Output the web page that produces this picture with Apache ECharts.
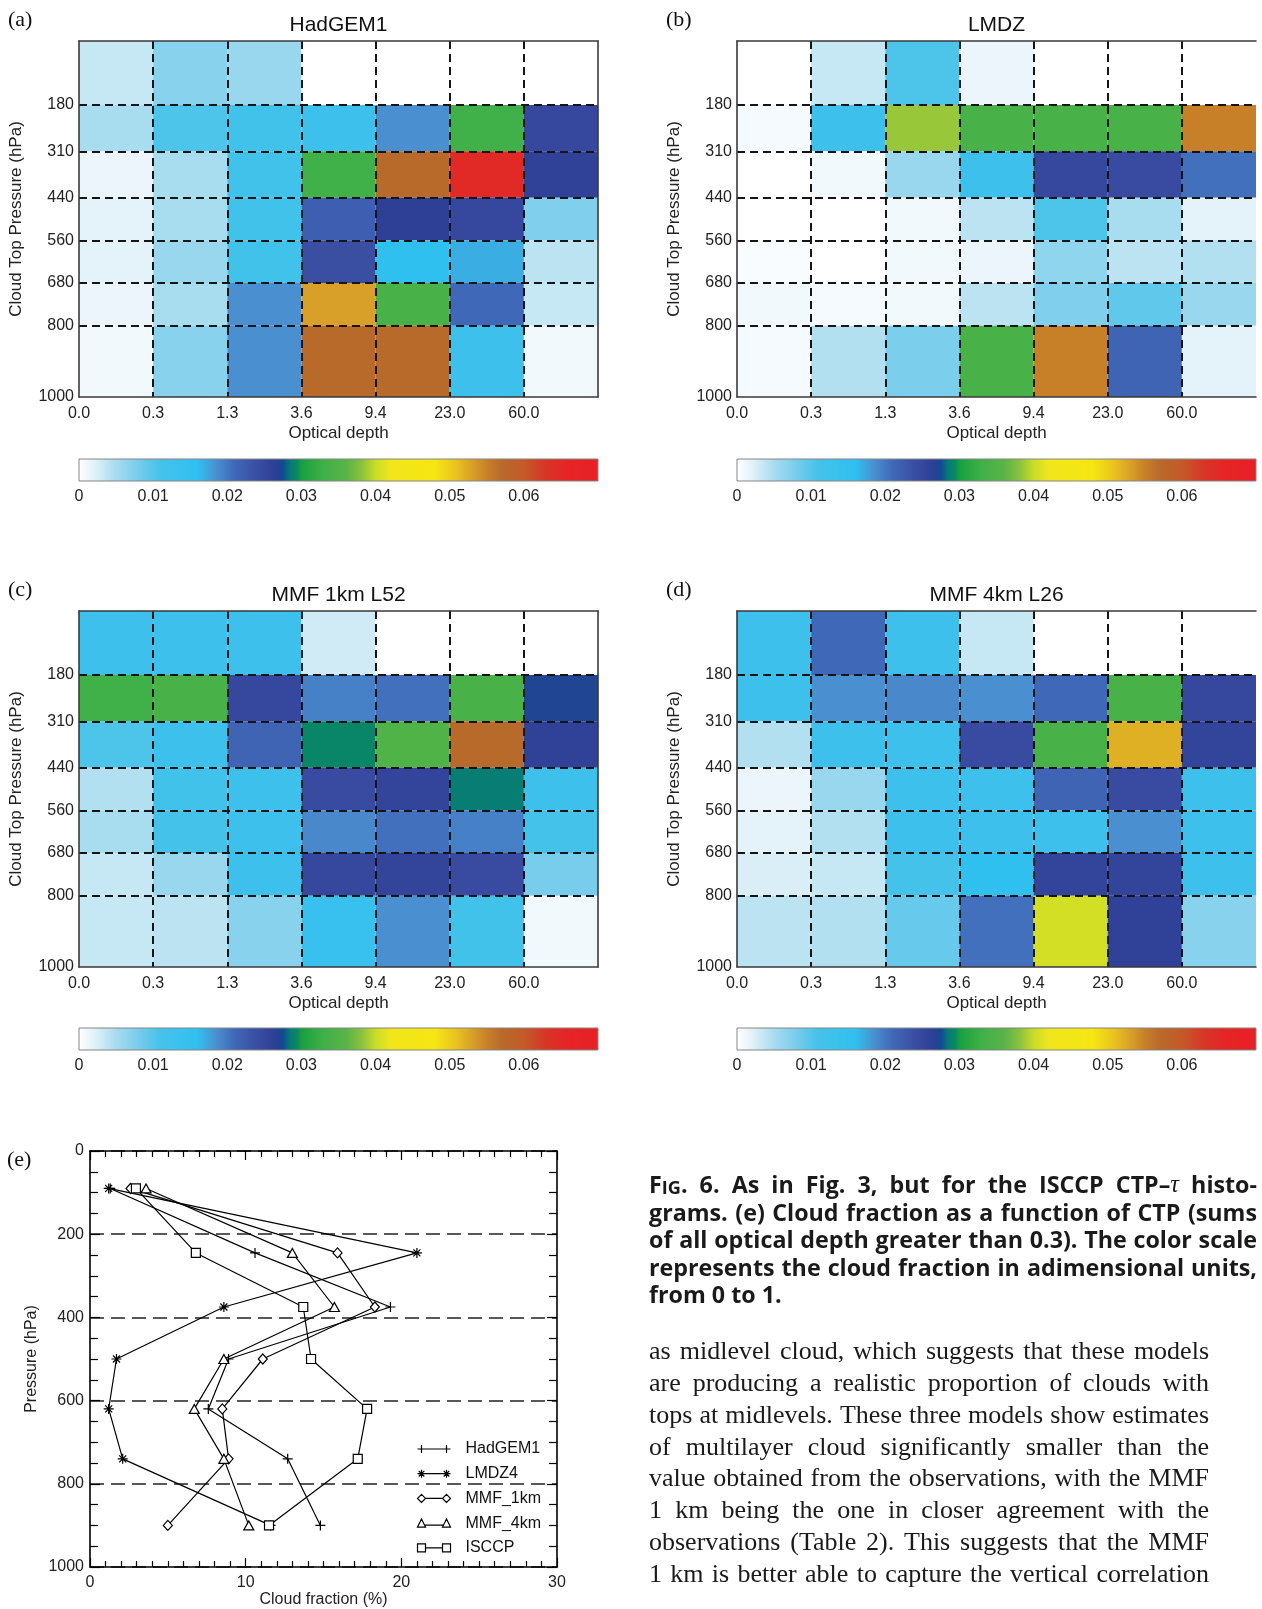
<!DOCTYPE html>
<html>
<head>
<meta charset="utf-8">
<title>Fig. 6 ISCCP CTP-tau histograms</title>
<script src="https://cdn.jsdelivr.net/npm/echarts@6.0.0/dist/echarts.min.js"></script>
<style>
html,body{margin:0;padding:0;background:#ffffff;}
#chart{width:1262px;height:1609px;}
</style>
</head>
<body>
<div id="chart"></div>
<script>
// ================= DATA =================
const tauLabels = ['0.0', '0.3', '1.3', '3.6', '9.4', '23.0', '60.0', ''];
const pressureEdges = [0, 180, 310, 440, 560, 680, 800, 1000];
const pressureTickLabels = [180, 310, 440, 560, 680, 800, 1000];
const colorbarMax = 0.07;
const colorbarTickLabels = ['0', '0.01', '0.02', '0.03', '0.04', '0.05', '0.06', ''];

// rows: top (0-180 hPa) -> bottom (800-1000 hPa); columns: tau bins 0.0-0.3 ... >60
const hadgem1 = [
  [0.0035, 0.007, 0.006, 0, 0, 0, 0],
  [0.005, 0.0105, 0.012, 0.013, 0.0185, 0.033, 0.025],
  [0.0015, 0.005, 0.012, 0.033, 0.057, 0.065, 0.026],
  [0.002, 0.005, 0.012, 0.022, 0.0265, 0.025, 0.0075],
  [0.002, 0.006, 0.012, 0.024, 0.016, 0.017, 0.004],
  [0.0015, 0.005, 0.0185, 0.053, 0.034, 0.021, 0.0035],
  [0.001, 0.007, 0.0185, 0.057, 0.057, 0.013, 0.001]
];
const lmdz = [
  [0, 0.0035, 0.0105, 0.0015, 0, 0, 0],
  [0.0008, 0.013, 0.0385, 0.034, 0.034, 0.034, 0.055],
  [0, 0.001, 0.006, 0.013, 0.025, 0.0245, 0.0205],
  [0, 0, 0.001, 0.004, 0.0105, 0.005, 0.002],
  [0.0005, 0, 0.001, 0.0015, 0.0065, 0.004, 0.0045],
  [0.001, 0.0008, 0.001, 0.004, 0.0075, 0.0095, 0.006],
  [0.0008, 0.0045, 0.0078, 0.034, 0.055, 0.0215, 0.002]
];
const mmf1km = [
  [0.013, 0.013, 0.013, 0.003, 0, 0, 0],
  [0.033, 0.034, 0.025, 0.0195, 0.0205, 0.034, 0.027],
  [0.0105, 0.013, 0.0215, 0.0292, 0.035, 0.057, 0.026],
  [0.0045, 0.012, 0.013, 0.0245, 0.0255, 0.0287, 0.013],
  [0.005, 0.011, 0.013, 0.019, 0.0205, 0.0195, 0.011],
  [0.0035, 0.006, 0.013, 0.025, 0.0255, 0.0245, 0.008],
  [0.0035, 0.004, 0.007, 0.014, 0.0185, 0.012, 0.001]
];
const mmf4km = [
  [0.013, 0.021, 0.013, 0.0035, 0, 0, 0],
  [0.013, 0.0185, 0.019, 0.0185, 0.021, 0.034, 0.025],
  [0.0045, 0.013, 0.013, 0.0245, 0.034, 0.052, 0.0255],
  [0.0015, 0.006, 0.013, 0.013, 0.0215, 0.0245, 0.013],
  [0.002, 0.0045, 0.013, 0.013, 0.013, 0.0185, 0.013],
  [0.0025, 0.0035, 0.011, 0.016, 0.0255, 0.0255, 0.013],
  [0.004, 0.0045, 0.009, 0.0205, 0.0405, 0.026, 0.007]
];
const panelTitles = ['HadGEM1', 'LMDZ', 'MMF 1km L52', 'MMF 4km L26'];
const panelLetters = ['(a)', '(b)', '(c)', '(d)', '(e)'];

// panel (e): cloud fraction (%) vs pressure (hPa)
const profileLevels = [90, 245, 375, 500, 620, 740, 900];
const hadgem1Profile = [1.3, 10.6, 19.3, 8.9, 7.6, 12.7, 14.8];
const lmdz4Profile = [1.2, 21.0, 8.6, 1.7, 1.2, 2.1, 11.6];
const mmf1kmProfile = [2.6, 15.9, 18.3, 11.1, 8.5, 8.9, 5.0];
const mmf4kmProfile = [3.6, 13.0, 15.7, 8.6, 6.7, 8.6, 10.2];
const isccpProfile = [2.95, 6.8, 13.7, 14.2, 17.8, 17.2, 11.5];
const profileNames = ['HadGEM1', 'LMDZ4', 'MMF_1km', 'MMF_4km', 'ISCCP'];

const captionLines = [
  'FIG. 6. As in Fig. 3, but for the ISCCP CTP\u2013\u03c4 histo-',
  'grams. (e) Cloud fraction as a function of CTP (sums',
  'of all optical depth greater than 0.3). The color scale',
  'represents the cloud fraction in adimensional units,',
  'from 0 to 1.'
];
const bodyLines = [
  'as midlevel cloud, which suggests that these models',
  'are producing a realistic proportion of clouds with',
  'tops at midlevels. These three models show estimates',
  'of multilayer cloud significantly smaller than the',
  'value obtained from the observations, with the MMF',
  '1 km being the one in closer agreement with the',
  'observations (Table 2). This suggests that the MMF',
  '1 km is better able to capture the vertical correlation'
];

// ================= STYLE =================
const FONT = '"Liberation Sans", Arial, sans-serif';
const colorStops = [
  [0.000, '#ffffff'], [0.002, '#e4f2f9'], [0.005, '#a8dcef'], [0.008, '#78cdec'],
  [0.011, '#45c2ea'], [0.016, '#30c0f0'], [0.0185, '#4a90d0'], [0.021, '#4068b8'],
  [0.024, '#3a4ea2'], [0.0265, '#2e3f96'], [0.0275, '#104a90'], [0.0285, '#087a78'],
  [0.0295, '#0a8a60'], [0.030, '#18a040'], [0.033, '#40b048'], [0.036, '#58b448'],
  [0.038, '#88c040'], [0.040, '#c8dc28'], [0.042, '#f0e61c'], [0.048, '#f6e612'],
  [0.051, '#e8c020'], [0.053, '#d8a028'], [0.055, '#c88028'], [0.057, '#b86a2a'],
  [0.060, '#c45a2a'], [0.063, '#d83428'], [0.066, '#e62424'], [0.070, '#e8202a']
];
function hexRgb(h) { return [parseInt(h.substr(1, 2), 16), parseInt(h.substr(3, 2), 16), parseInt(h.substr(5, 2), 16)]; }
function cmap(v) {
  if (v <= colorStops[0][0]) return colorStops[0][1];
  for (let i = 1; i < colorStops.length; i++) {
    if (v <= colorStops[i][0]) {
      const a = colorStops[i - 1], b = colorStops[i];
      const t = (v - a[0]) / (b[0] - a[0]);
      const ca = hexRgb(a[1]), cb = hexRgb(b[1]);
      const c = ca.map((x, k) => Math.round(x + (cb[k] - x) * t));
      return 'rgb(' + c.join(',') + ')';
    }
  }
  return colorStops[colorStops.length - 1][1];
}

// ================= LAYOUT =================
const PW = 519, PH = 356;
const panelPos = [[79, 41], [737, 41], [79, 611], [737, 611]];
const cbTops = [459, 459, 1028, 1028];
const matrices = [hadgem1, lmdz, mmf1km, mmf4km];
const rightBorderShown = [true, false, true, false]; // (b),(d) are cropped at the page edge

const grids = [], xAxes = [], yAxes = [], series = [], graphics = [];
const frameLine = { show: true, onZero: false, lineStyle: { color: '#3a3a3a', width: 1.6 } };
const dashStyle = { color: '#151515', width: 2, type: [8, 5] };

function heatRender(params, api) {
  const c = api.value(0), r = api.value(1), v = api.value(2);
  const p0 = api.coord([c, pressureEdges[r]]);
  const p1 = api.coord([c + 1, pressureEdges[r + 1]]);
  return {
    type: 'rect',
    shape: { x: Math.min(p0[0], p1[0]), y: Math.min(p0[1], p1[1]), width: Math.abs(p1[0] - p0[0]), height: Math.abs(p1[1] - p0[1]) },
    style: { fill: cmap(v) }
  };
}
const gradient = new echarts.graphic.LinearGradient(0, 0, 1, 0,
  colorStops.map(s => ({ offset: s[0] / colorbarMax, color: s[1] })));
function colorbarRender(params, api) {
  const p0 = api.coord([api.value(0), 1]);
  const p1 = api.coord([api.value(1), 0]);
  return { type: 'rect', shape: { x: p0[0], y: p0[1], width: p1[0] - p0[0], height: p1[1] - p0[1] },
    style: { fill: gradient, stroke: '#858585', lineWidth: 1 } };
}

panelPos.forEach((pos, k) => {
  const [left, top] = pos;
  const g = grids.length;
  grids.push({ left: left, top: top, width: PW, height: PH });
  const xi = xAxes.length;
  xAxes.push({
    gridIndex: g, type: 'value', min: 0, max: 7, interval: 1, position: 'bottom', z: 10,
    axisLine: frameLine, axisTick: { show: false }, splitLine: { show: false },
    axisLabel: { color: '#222', fontSize: 16, fontFamily: FONT, margin: 9, formatter: v => tauLabels[Math.round(v)] || '' },
    name: 'Optical depth', nameLocation: 'middle', nameGap: 28,
    nameTextStyle: { color: '#222', fontSize: 17, fontFamily: FONT }
  });
  xAxes.push({
    gridIndex: g, type: 'value', min: 0, max: 7, position: 'top', z: 10,
    axisLine: frameLine, axisTick: { show: false }, axisLabel: { show: false }, splitLine: { show: false }
  });
  const yi = yAxes.length;
  yAxes.push({
    gridIndex: g, type: 'value', min: 0, max: 1000, interval: 10, inverse: true, position: 'left', z: 10,
    axisLine: frameLine, axisTick: { show: false }, splitLine: { show: false },
    axisLabel: { color: '#222', fontSize: 16, fontFamily: FONT, margin: 5,
      formatter: v => (pressureTickLabels.indexOf(Math.round(v)) >= 0 ? String(Math.round(v)) : '') },
    name: 'Cloud Top Pressure (hPa)', nameLocation: 'middle', nameGap: 54,
    nameTextStyle: { color: '#222', fontSize: 17, fontFamily: FONT }
  });
  yAxes.push({
    gridIndex: g, type: 'value', min: 0, max: 1000, inverse: true, position: 'right', z: 10,
    axisLine: Object.assign({}, frameLine, { show: rightBorderShown[k] }),
    axisTick: { show: false }, axisLabel: { show: false }, splitLine: { show: false }
  });
  const cells = [];
  matrices[k].forEach((row, r) => row.forEach((v, c) => cells.push([c, r, v])));
  series.push({
    type: 'custom', xAxisIndex: xi, yAxisIndex: yi, data: cells, renderItem: heatRender,
    encode: { x: 0, y: 1 }, silent: true,
    markLine: {
      silent: true, symbol: ['none', 'none'], label: { show: false }, lineStyle: dashStyle, z: 6,
      emphasis: { disabled: true },
      data: pressureTickLabels.slice(0, 6).map(p => ({ yAxis: p }))
        .concat([1, 2, 3, 4, 5, 6].map(i => ({ xAxis: i })))
    }
  });

  // colorbar
  const gc = grids.length;
  grids.push({ left: left, top: cbTops[k], width: PW, height: 22 });
  const xci = xAxes.length;
  xAxes.push({
    gridIndex: gc, type: 'value', min: 0, max: colorbarMax, interval: 0.01,
    axisLine: { show: false }, axisTick: { show: false }, splitLine: { show: false },
    axisLabel: { color: '#222', fontSize: 16, fontFamily: FONT, margin: 8,
      formatter: v => colorbarTickLabels[Math.round(v / 0.01)] || '' }
  });
  const yci = yAxes.length;
  yAxes.push({ gridIndex: gc, type: 'value', min: 0, max: 1, show: false });
  series.push({ type: 'custom', xAxisIndex: xci, yAxisIndex: yci, data: [[0, colorbarMax]],
    renderItem: colorbarRender, encode: { x: [0, 1] }, silent: true });

  // titles and letters
  graphics.push({ type: 'text', x: left + PW / 2, y: top - 16,
    style: { text: panelTitles[k], font: '21px ' + FONT, fill: '#111', align: 'center', verticalAlign: 'middle', textAlign: 'center', textVerticalAlign: 'middle' } });
  graphics.push({ type: 'text', x: left - 71, y: top - 21,
    style: { text: panelLetters[k], font: '22px "Liberation Serif", serif', fill: '#111', align: 'left', verticalAlign: 'middle', textAlign: 'left', textVerticalAlign: 'middle' } });
});

// ---------- panel (e) ----------
const ge = grids.length;
grids.push({ left: 90, top: 1151, width: 467, height: 417 });
const eLine = { show: true, onZero: false, lineStyle: { color: '#000', width: 1.6 } };
const exi = xAxes.length;
xAxes.push({
  gridIndex: ge, type: 'value', min: 0, max: 30, interval: 10, position: 'bottom',
  axisLine: eLine, axisTick: { show: true, inside: true, length: 9, lineStyle: { color: '#000', width: 1.2 } },
  minorTick: { show: true, splitNumber: 10, length: 6, lineStyle: { color: '#000', width: 1.2 } },
  splitLine: { show: false },
  axisLabel: { color: '#222', fontSize: 16, fontFamily: FONT, margin: 8 },
  name: 'Cloud fraction (%)', nameLocation: 'middle', nameGap: 25,
  nameTextStyle: { color: '#222', fontSize: 16, fontFamily: FONT }
});
xAxes.push({
  gridIndex: ge, type: 'value', min: 0, max: 30, interval: 10, position: 'top',
  axisLine: eLine, axisTick: { show: true, inside: true, length: 9, lineStyle: { color: '#000', width: 1.2 } },
  minorTick: { show: true, splitNumber: 10, length: 6, lineStyle: { color: '#000', width: 1.2 } },
  splitLine: { show: false }, axisLabel: { show: false }
});
const eyi = yAxes.length;
yAxes.push({
  gridIndex: ge, type: 'value', min: 0, max: 1000, interval: 200, inverse: true, position: 'left',
  axisLine: eLine, axisTick: { show: true, inside: true, length: 10, lineStyle: { color: '#000', width: 1.2 } },
  minorTick: { show: true, splitNumber: 4, length: 8, lineStyle: { color: '#000', width: 1.2 } },
  splitLine: { show: true, lineStyle: { color: '#222', width: 1.6, type: [14, 7] } },
  axisLabel: { color: '#222', fontSize: 16, fontFamily: FONT, margin: 6, formatter: v => String(v) },
  name: 'Pressure (hPa)', nameLocation: 'middle', nameGap: 50,
  nameTextStyle: { color: '#222', fontSize: 16, fontFamily: FONT }
});
yAxes.push({
  gridIndex: ge, type: 'value', min: 0, max: 1000, interval: 200, inverse: true, position: 'right',
  axisLine: eLine, axisTick: { show: true, inside: true, length: 10, lineStyle: { color: '#000', width: 1.2 } },
  minorTick: { show: true, splitNumber: 4, length: 8, lineStyle: { color: '#000', width: 1.2 } },
  splitLine: { show: false }, axisLabel: { show: false }
});

const profiles = [hadgem1Profile, lmdz4Profile, mmf1kmProfile, mmf4kmProfile, isccpProfile];
const markerPaths = [
  'path://M0,5L10,5M5,0L5,10',
  'path://M0,5L10,5M5,0L5,10M1.5,1.5L8.5,8.5M1.5,8.5L8.5,1.5',
  'path://M5,0L10,5L5,10L0,5Z',
  'path://M5,0L10,9L0,9Z',
  'path://M0,0L10,0L10,10L0,10Z'
];
const markerSizes = [10, 10, [9, 10], [10, 9], 9];
const legendIcons = [
  'path://M0,4L33,4M4,0L4,8M29,0L29,8',
  'path://M0,4L33,4M4,0L4,8M1.2,1.2L6.8,6.8M1.2,6.8L6.8,1.2M29,0L29,8M26.2,1.2L31.8,6.8M26.2,6.8L31.8,1.2',
  'path://M4,0L8,4L4,8L0,4ZM29,0L33,4L29,8L25,4ZM8,4L25,4',
  'path://M4,0L8,8L0,8ZM29,0L33,8L25,8ZM6.5,6L26.5,6',
  'path://M0,0L8,0L8,8L0,8ZM25,0L33,0L33,8L25,8ZM8,4L25,4'
];
profiles.forEach((prof, i) => {
  series.push({
    type: 'line', name: profileNames[i], xAxisIndex: exi, yAxisIndex: eyi,
    data: prof.map((x, j) => [x, profileLevels[j]]),
    color: '#000', symbol: markerPaths[i], symbolSize: markerSizes[i],
    lineStyle: { color: '#000', width: 1.2 },
    itemStyle: { color: '#fff', borderColor: '#000', borderWidth: 1.2 },
    z: 3 + i, silent: true
  });
});

const legend = {
  data: profileNames.map((n, i) => ({ name: n, icon: legendIcons[i] })),
  orient: 'vertical', left: 415, top: 1440, padding: 0, itemWidth: 33, itemHeight: 8, itemGap: 6.7,
  selectedMode: false,
  itemStyle: { color: 'none', borderColor: '#000', borderWidth: 1.2 },
  textStyle: { color: '#111', fontSize: 16, fontFamily: FONT, lineHeight: 18, padding: [0, 0, 0, 10] }
};
graphics.push({ type: 'text', x: 7, y: 1160,
  style: { text: panelLetters[4], font: '22px "Liberation Serif", serif', fill: '#111', align: 'left', verticalAlign: 'middle', textAlign: 'left', textVerticalAlign: 'middle' } });

// ---------- caption and body text (justified) ----------
const mctx = document.createElement('canvas').getContext('2d');
function tw(t, f) { mctx.font = f; return mctx.measureText(t).width; }
function fitSize(lines, prefix, family, target, maxSize) {
  for (let s = maxSize; s > 10; s -= 0.25) {
    const f = prefix + s + 'px ' + family;
    if (lines.every(l => tw(l, f) <= target)) return s;
  }
  return 10;
}
const capFamily = '"Open Sans", sans-serif';
const capSize = fitSize(captionLines.slice(0, 4), 'bold ', capFamily, 606, 26);
const capFont = 'bold ' + capSize + 'px ' + capFamily;
const capSmall = 'bold ' + (capSize * 0.78).toFixed(2) + 'px ' + capFamily;
const tauFont = 'italic ' + (capSize + 1) + 'px "Liberation Serif", serif';
const bodyFamily = '"Liberation Serif", serif';
const bodySize = fitSize(bodyLines, '', bodyFamily, 556, 30);
const bodyFont = bodySize + 'px ' + bodyFamily;

function captionWord(w) {
  if (w === 'FIG.') return [{ t: 'F', f: capFont }, { t: 'IG', f: capSmall }, { t: '.', f: capFont }];
  const k = w.indexOf('\u03c4');
  if (k >= 0) return [{ t: w.slice(0, k), f: capFont }, { t: '\u03c4', f: tauFont }, { t: w.slice(k + 1), f: capFont }].filter(s => s.t);
  return [{ t: w, f: capFont }];
}
function layLine(words, x0, width, yBase, justify, spaceFont) {
  const widths = words.map(ws => ws.reduce((s, seg) => s + tw(seg.t, seg.f), 0));
  const total = widths.reduce((a, b) => a + b, 0);
  const gap = (justify && words.length > 1) ? (width - total) / (words.length - 1) : tw(' ', spaceFont);
  let x = x0;
  words.forEach((ws, i) => {
    let xs = x;
    ws.forEach(seg => {
      graphics.push({ type: 'text', x: xs, y: yBase,
        style: { text: seg.t, font: seg.f, fill: '#1a1a1a', align: 'left', verticalAlign: 'bottom', textAlign: 'left', textVerticalAlign: 'bottom' } });
      xs += tw(seg.t, seg.f);
    });
    x += widths[i] + gap;
  });
}
const capCenters = [1187, 1215, 1242, 1270, 1297];
captionLines.forEach((line, i) => {
  const words = line.split(' ').map(captionWord);
  layLine(words, 649, 608, capCenters[i] + 11, i < captionLines.length - 1, capFont);
});
const bodyCenters = [1352, 1384, 1416, 1448, 1479, 1511, 1543, 1575];
bodyLines.forEach((line, i) => {
  const words = line.split(' ').map(w => [{ t: w, f: bodyFont }]);
  layLine(words, 649, 560, bodyCenters[i] + 13, true, bodyFont);
});

// ================= CHART =================
const chart = echarts.init(document.getElementById('chart'), null, { renderer: 'canvas', width: 1262, height: 1609 });
chart.setOption({
  backgroundColor: '#ffffff',
  animation: false,
  grid: grids,
  xAxis: xAxes,
  yAxis: yAxes,
  legend: legend,
  series: series,
  graphic: { elements: graphics }
});
</script>
</body>
</html>
